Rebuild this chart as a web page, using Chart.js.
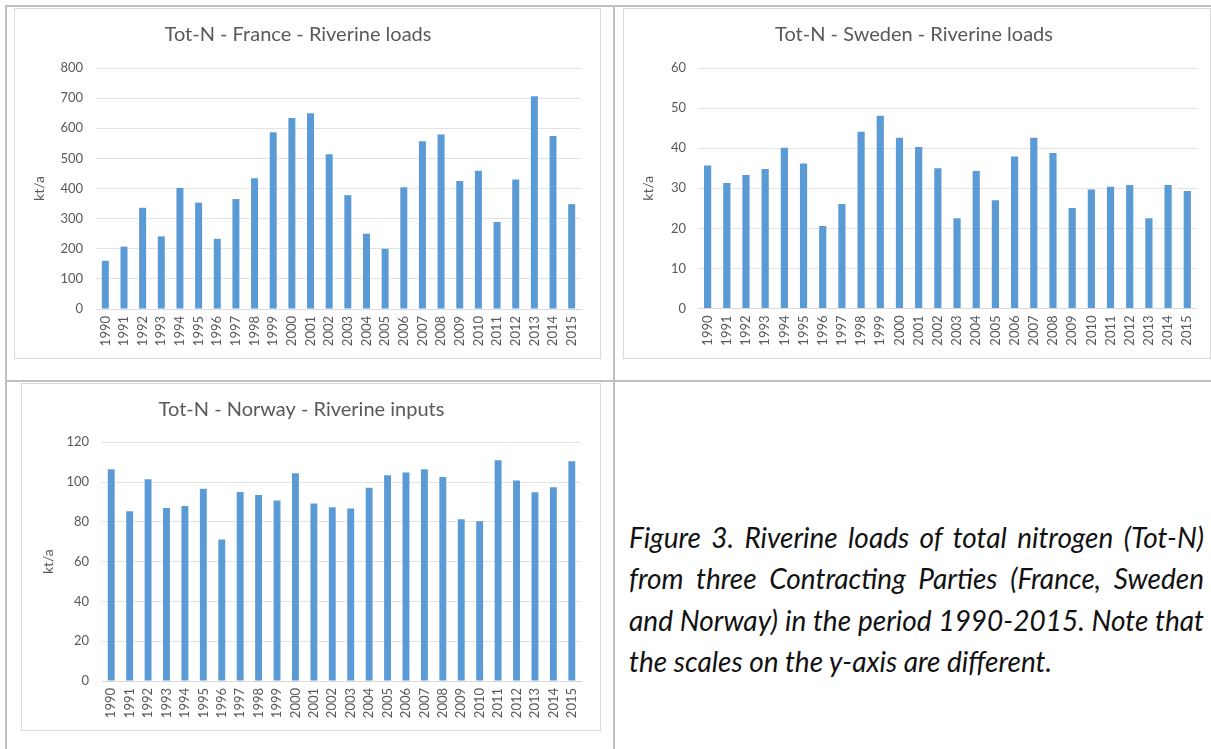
<!DOCTYPE html>
<html>
<head>
<meta charset="utf-8">
<script src="https://cdn.jsdelivr.net/npm/chart.js@4.4.1/dist/chart.umd.min.js"></script>
<style>
  html, body { margin: 0; padding: 0; background: #fff; }
  body { width: 1211px; height: 749px; position: relative; overflow: hidden; }
  .line { position: absolute; background: #c0c0c0; }
  .frame { position: absolute; box-sizing: border-box; border: 1px solid #d9d9d9; background: #fff; }
  .frame canvas { display: block; }
  .cap { position: absolute; left: 629px; width: 575px; font-family: "Lato", "Open Sans", sans-serif; font-style: italic; font-size: 28px; line-height: 34px; color: #111; white-space: nowrap; text-align: justify; text-align-last: justify; }
  .cap.last { text-align: left; text-align-last: left; }
</style>
</head>
<body>
<div class="line" style="left:5px;top:5px;width:1206px;height:2px;"></div>
<div class="line" style="left:5px;top:5px;width:2px;height:744px;"></div>
<div class="line" style="left:613px;top:5px;width:2px;height:744px;"></div>
<div class="line" style="left:5px;top:380px;width:1206px;height:2px;"></div>

<div class="frame" style="left:14px;top:8px;width:587px;height:351px;"><canvas id="cFrance"></canvas></div>
<div class="frame" style="left:623px;top:8px;width:588px;height:351px;"><canvas id="cSweden"></canvas></div>
<div class="frame" style="left:21px;top:383px;width:580px;height:348px;"><canvas id="cNorway"></canvas></div>

<div class="cap" style="top:520px;">Figure 3. Riverine loads of total nitrogen (Tot-N)</div>
<div class="cap" style="top:561px;">from three Contracting Parties (France, Sweden</div>
<div class="cap" style="top:603px;">and Norway) in the period 1990-2015. Note that</div>
<div class="cap last" style="top:644px;">the scales on the y-axis are different.</div>

<script>
const years = ["1990","1991","1992","1993","1994","1995","1996","1997","1998","1999","2000","2001","2002","2003","2004","2005","2006","2007","2008","2009","2010","2011","2012","2013","2014","2015"];
const franceValues = [160,207,336,241,402,353,233,365,434,587,634,650,514,378,250,200,404,557,579,425,459,289,430,706,574,348];
const swedenValues = [35.7,31.3,33.3,34.8,40.1,36.2,20.6,26.1,44.1,48.1,42.6,40.3,35.0,22.5,34.3,27.0,37.9,42.6,38.8,25.1,29.7,30.4,30.8,22.5,30.8,29.3];
const norwayValues = [106.5,85.3,101.4,87.0,88.0,96.7,71.1,95.0,93.5,90.7,104.4,89.2,87.3,86.7,97.1,103.4,104.8,106.4,102.6,81.3,80.3,111.0,100.8,94.9,97.4,110.5];
const franceTicks = { max: 800, step: 100 };
const swedenTicks = { max: 60, step: 10 };
const norwayTicks = { max: 120, step: 20 };
const titles = ["Tot-N - France - Riverine loads", "Tot-N - Sweden - Riverine loads", "Tot-N - Norway - Riverine inputs"];
const yAxisTitle = "kt/a";

const TXT = "#595959";
const FONT = "Lato, 'Open Sans', sans-serif";

function makeChart(id, title, values, ticks, lay) {
  new Chart(document.getElementById(id), {
    type: 'bar',
    data: {
      labels: years,
      datasets: [{ data: values, backgroundColor: '#5b9bd5', borderWidth: 0, barPercentage: 0.375, categoryPercentage: 1.0 }]
    },
    options: {
      responsive: true,
      maintainAspectRatio: false,
      animation: false,
      events: [],
      layout: { padding: { left: 0, right: lay.right, top: 0, bottom: 0 } },
      plugins: {
        legend: { display: false },
        tooltip: { enabled: false },
        title: {
          display: true, text: title, color: TXT,
          font: { family: FONT, size: 20, weight: 'normal' },
          padding: { top: lay.tTop, bottom: lay.tBottom }
        }
      },
      scales: {
        x: {
          grid: { display: false, drawTicks: false },
          border: { display: true, color: '#d9d9d9', width: 1 },
          ticks: { color: TXT, font: { family: FONT, size: 13 }, minRotation: 90, maxRotation: 90, autoSkip: false, padding: 7 },
          afterFit: s => { s.height = lay.xh; }
        },
        y: {
          min: 0, max: ticks.max,
          grid: { color: '#e3e3e3', drawTicks: false, lineWidth: 1 },
          border: { display: false },
          ticks: { stepSize: ticks.step, color: TXT, font: { family: FONT, size: 13 }, padding: lay.tp },
          title: { display: true, text: yAxisTitle, color: TXT, font: { family: FONT, size: 14 }, padding: { top: lay.yt, bottom: 0 } },
          afterFit: s => { s.width = lay.yw; }
        }
      }
    }
  });
}

makeChart('cFrance', titles[0], franceValues, franceTicks, { right: 19, tTop: 14, tBottom: 21, xh: 49, yw: 81, tp: 13, yt: 16 });
makeChart('cSweden', titles[1], swedenValues, swedenTicks, { right: 6, tTop: 14, tBottom: 21, xh: 49.5, yw: 74, tp: 12, yt: 16 });
makeChart('cNorway', titles[2], norwayValues, norwayTicks, { right: 19, tTop: 14, tBottom: 20.3, xh: 49, yw: 80, tp: 13, yt: 18 });
</script>
</body>
</html>
